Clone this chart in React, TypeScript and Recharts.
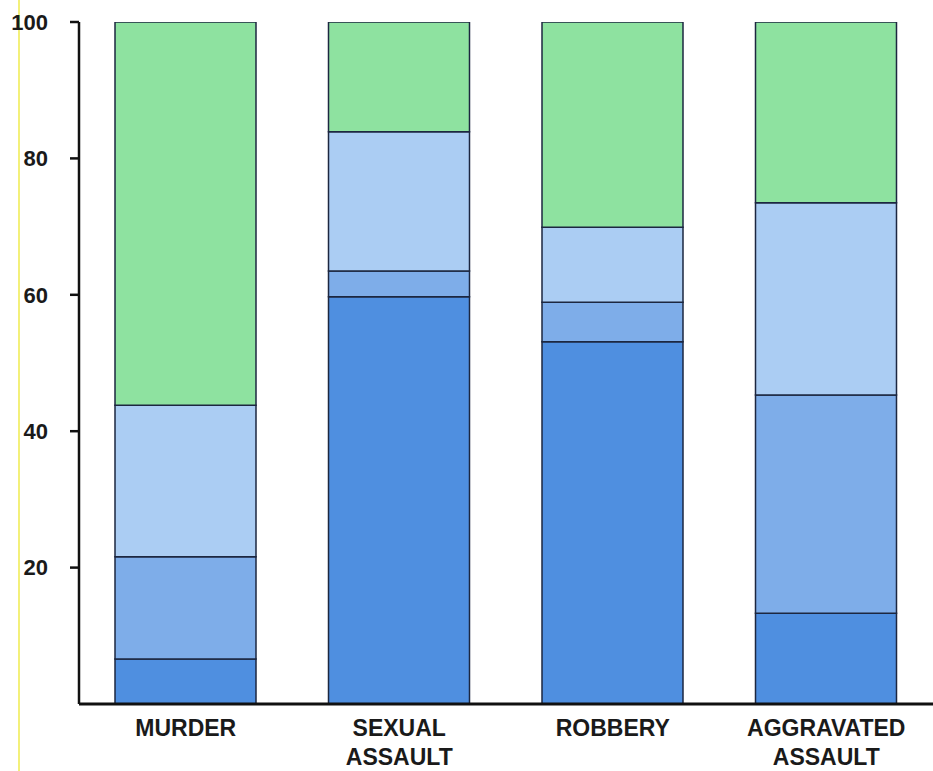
import { Bar, BarChart, XAxis, YAxis } from "recharts";

// percent of each crime type, stacked bottom to top
const categories = ["MURDER", "SEXUAL\nASSAULT", "ROBBERY", "AGGRAVATED\nASSAULT"];
const darkBlue = [6.6, 59.7, 53.1, 13.3];
const midBlue = [15.0, 3.8, 5.8, 32.0];
const lightBlue = [22.2, 20.4, 11.0, 28.2];
const green = [56.2, 16.1, 30.1, 26.5];
const yTicks = [20, 40, 60, 80, 100];

const data = categories.map((name, i) => ({
  name,
  s1: darkBlue[i],
  s2: midBlue[i],
  s3: lightBlue[i],
  s4: green[i],
}));

const FONT = "'Liberation Sans', Arial, sans-serif";
const EDGE = "#1c2740";

function CategoryTick({ x, y, payload }: any) {
  const lines = String(payload.value).split("\n");
  return (
    <text
      x={x}
      y={y}
      textAnchor="middle"
      fontFamily={FONT}
      fontWeight="bold"
      fontSize={23}
      fill="#1a1a1a"
    >
      {lines.map((l, i) => (
        <tspan key={i} x={x} y={y + 32 + i * 29}>
          {l}
        </tspan>
      ))}
    </text>
  );
}

export default function App() {
  return (
    <div style={{ position: "absolute", left: 0, top: 0, width: 933, height: 771, background: "#fff" }}>
      <div
        style={{
          position: "absolute",
          left: 18,
          top: 0,
          width: 2,
          height: 771,
          background: "#f3f07a",
        }}
      />
      <BarChart
        width={933}
        height={771}
        data={data}
        margin={{ top: 22, right: 0, bottom: 7, left: 0 }}
        barSize={141}
      >
        <XAxis
          dataKey="name"
          interval={0}
          tickLine={false}
          tickSize={0}
          tickMargin={0}
          height={60}
          axisLine={{ stroke: "#111", strokeWidth: 3 }}
          tick={<CategoryTick />}
        />
        <YAxis
          width={79}
          domain={[0, 100]}
          ticks={yTicks}
          allowDataOverflow
          tickSize={9}
          tickMargin={22}
          axisLine={{ stroke: "#111", strokeWidth: 2.5 }}
          tickLine={{ stroke: "#111", strokeWidth: 2.5 }}
          tick={{ fontFamily: FONT, fontWeight: "bold", fontSize: 22, fill: "#1a1a1a" }}
        />
        <Bar dataKey="s1" stackId="a" fill="#4f8fe0" stroke={EDGE} strokeWidth={1.5} isAnimationActive={false} />
        <Bar dataKey="s2" stackId="a" fill="#7eade9" stroke={EDGE} strokeWidth={1.5} isAnimationActive={false} />
        <Bar dataKey="s3" stackId="a" fill="#abcdf3" stroke={EDGE} strokeWidth={1.5} isAnimationActive={false} />
        <Bar dataKey="s4" stackId="a" fill="#8ee2a0" stroke={EDGE} strokeWidth={1.5} isAnimationActive={false} />
      </BarChart>
    </div>
  );
}
